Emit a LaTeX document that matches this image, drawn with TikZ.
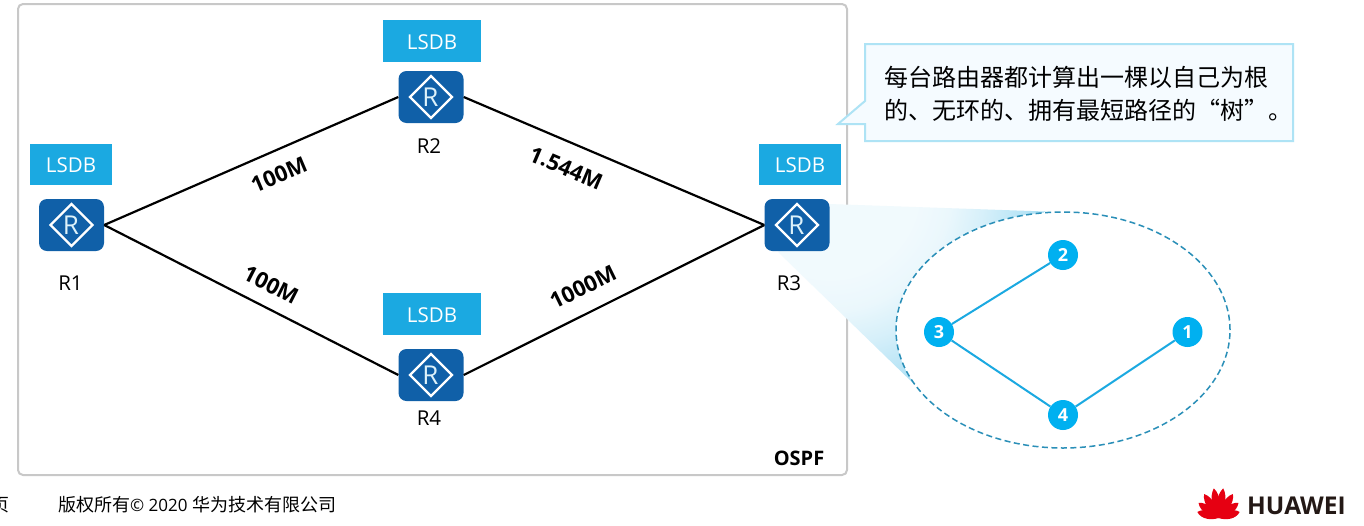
\documentclass[tikz,border=0pt]{standalone}
\usepackage{fontspec}
\setmainfont{Open Sans}
\newfontfamily\cjk{Noto Sans CJK SC}
\usetikzlibrary{shapes.geometric}
\definecolor{lsdbblue}{HTML}{1BA9E1}
\definecolor{routerblue}{HTML}{1060A8}
\definecolor{panelgray}{HTML}{C8C8C8}
\definecolor{treeblue}{HTML}{00B0F0}
\definecolor{treeline}{HTML}{1BA9E1}
\definecolor{dashblue}{HTML}{2A8FB8}
\definecolor{callfill}{HTML}{F5FBFF}
\definecolor{calledge}{HTML}{AEE3F5}
\definecolor{hwred}{HTML}{E60012}
\definecolor{hwdark}{HTML}{231815}
\pgfdeclareradialshading{fanshade}{\pgfpoint{0cm}{0cm}}{%
  color(0bp)=(white!94!lsdbblue);
  color(20bp)=(white!94!lsdbblue);
  color(28bp)=(white!91!lsdbblue);
  color(36bp)=(white!82!lsdbblue);
  color(40bp)=(white!76!lsdbblue);
  color(50bp)=(white!62!lsdbblue)}
\newcommand{\fs}[1]{\fontsize{#1}{#1}\selectfont}
\tikzset{
  lsdbbox/.style={fill=lsdbblue,text=white,font=\fs{20.5},inner sep=0pt,minimum height=41.5pt},
  router/.style={fill=routerblue,rounded corners=8pt,minimum width=65pt,minimum height=52pt,inner sep=0pt},
  rname/.style={font=\fs{20.5},inner sep=0pt},
  link/.style={draw=black,line width=2.2pt},
  linklabel/.style={font=\fs{22}\bfseries,inner sep=0pt},
  treenode/.style={circle,fill=treeblue,text=white,font=\fs{18}\bfseries,minimum size=30pt,inner sep=0pt},
  treelink/.style={draw=treeline,line width=2pt},
}
\newcommand{\routericon}[3]{%
  \node[router] (#1) at (#2,#3) {};
  \draw[white,line width=2.4pt,line join=miter] (#2-21,#3) -- (#2,#3-21) -- (#2+21,#3) -- (#2,#3+21) -- cycle;
  \node[inner sep=0pt,text=white!85!lsdbblue,font=\fs{26}] at (#2-0.5,#3) {R};
}
\newcommand{\lsdbtext}{\raisebox{-1pt}[\height][0pt]{LSDB}}
\begin{document}
\begin{tikzpicture}[x=1pt,y=-1pt]
\useasboundingbox (0,0) rectangle (1364,525);
\fill[white] (0,0) rectangle (1364,525);
% panel
\node[draw=panelgray,line width=2pt,rounded corners=5pt,minimum width=829pt,minimum height=471pt,inner sep=0pt] (panel) at (432.5,239.5) {};
% fan
\begin{scope}
\clip (829,204) -- (1060,212) -- (1063,330) -- (915,385) -- (778,252) -- cycle;
\node[inner sep=0pt,outer sep=0pt,transform shape,scale=4.285] (fanglow) at (830,190) {\pgfuseshading{fanshade}};
\end{scope}
% routers
\routericon{r1}{71.5}{225}
\routericon{r2}{431}{97}
\routericon{r3}{797}{225}
\routericon{r4}{431}{375}
% LSDB
\node[lsdbbox,minimum width=82pt] (l1) at (71,164.5) {\lsdbtext};
\node[lsdbbox,minimum width=98pt] (l2) at (432,41) {\lsdbtext};
\node[lsdbbox,minimum width=82pt] (l3) at (800,164.5) {\lsdbtext};
\node[lsdbbox,minimum width=98pt] (l4) at (432,314) {\lsdbtext};
% names
\node[rname] (n1) at (70.5,283) {R1};
\node[rname] (n2) at (429,146) {R2};
\node[rname] (n3) at (789,283) {R3};
\node[rname] (n4) at (429,418) {R4};
% links
\draw[link] (r1.east) -- (r2.west);
\draw[link] (r2.east) -- (r3.west);
\draw[link] (r1.east) -- (r4.west);
\draw[link] (r4.east) -- (r3.west);
\node[linklabel,rotate=23] (a) at (279,175) {100M};
\node[linklabel,rotate=-23] (b) at (566,168) {1.544M};
\node[linklabel,rotate=-27] (c) at (271,285) {100M};
\node[linklabel,rotate=26] (d) at (583,287) {1000M};
\node[font=\fs{20}\bfseries,inner sep=0pt] (ospf) at (799,458) {OSPF};
% ellipse
\node[ellipse,draw=dashblue,dash pattern=on 6pt off 3.5pt,line width=1.5pt,fill=white,minimum width=334pt,minimum height=236pt,inner sep=0pt] (tree) at (1063,330) {};
\node[treenode] (t2) at (1063,255) {2};
\node[treenode] (t3) at (939,332) {3};
\node[treenode] (t1) at (1187.5,332) {1};
\node[treenode] (t4) at (1063,415) {4};
\draw[treelink] (t3) -- (t2);
\draw[treelink] (t3) -- (t4);
\draw[treelink] (t4) -- (t1);
% callout
\draw[fill=callfill,draw=calledge,line width=2pt] (865,44) -- (1293,44) -- (1293,141) -- (865,141) -- (865,124) -- (838,124) -- (865,101) -- cycle;
\node[anchor=west,inner sep=0pt,font=\cjk\fs{24}] (c1) at (884,77) {每台路由器都计算出一棵以自己为根};
\node[anchor=west,inner sep=0pt,font=\cjk\fs{24}] (c2) at (884,110) {的、无环的、拥有最短路径的“树”。};
% footer
\node[anchor=east,inner sep=0pt,font=\cjk\fs{18}] (pg) at (9.5,505) {页};
\node[anchor=west,inner sep=0pt,font=\fs{17}] (copy) at (58,505) {{\cjk\fs{18}版权所有}© 2020 {\cjk\fs{18}华为技术有限公司}};
% logo
\begin{scope}[shift={(1218.5,518)}]
\foreach \a/\l in {-9/30,9/30,-31/28,31/28,-53/25,53/25,-74/22,74/22}{
  \fill[hwred,rotate=\a] (0,0) .. controls (-4.5,-0.3*\l) and (-6,-0.75*\l) .. (0,-\l) .. controls (6,-0.75*\l) and (4.5,-0.3*\l) .. (0,0) -- cycle;
}
\end{scope}
\node[anchor=west,inner sep=0pt,text=hwdark,font=\fs{24.5}\bfseries] (hw) at (1247,505.5) {HUAWEI};
\end{tikzpicture}
\end{document}
